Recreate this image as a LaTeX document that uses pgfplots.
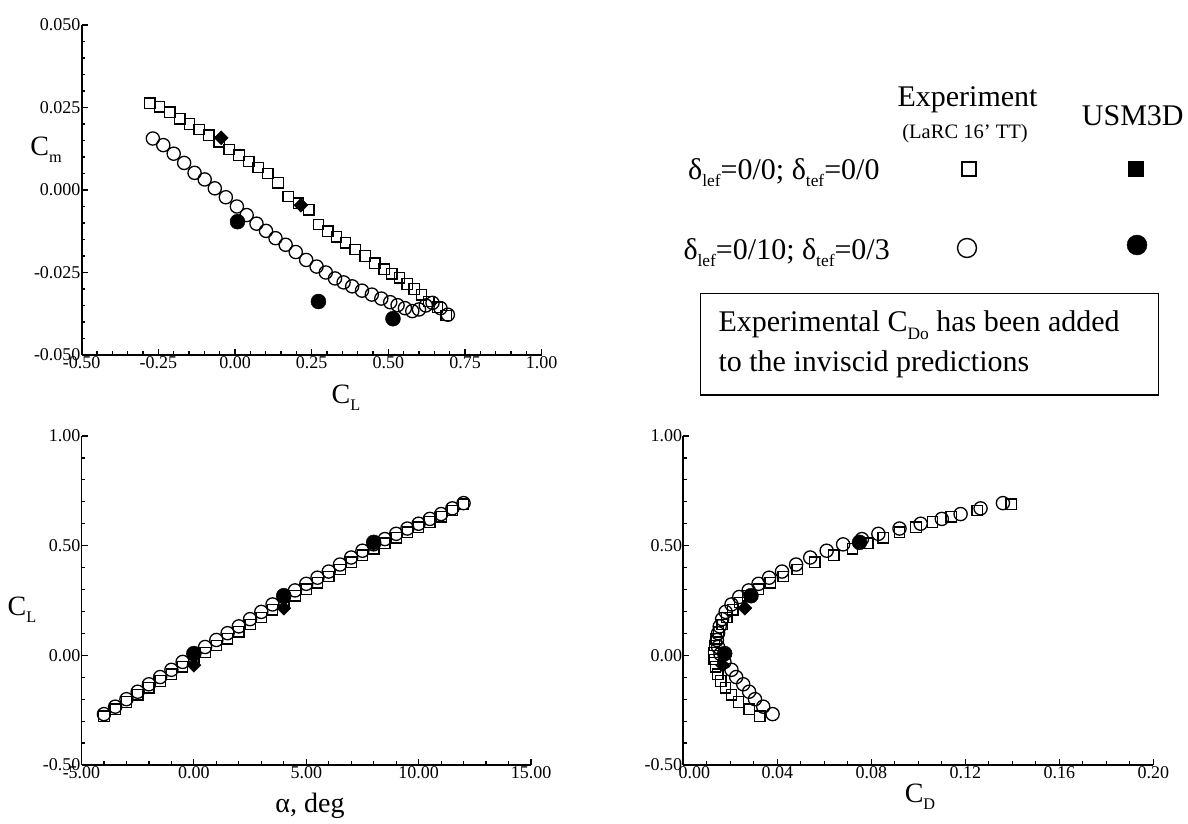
\documentclass[border=0pt]{standalone}
\usepackage{graphicx}
\usepackage{pgfplots}
\pgfplotsset{compat=1.18}
\usepackage{pgfplotstable}
\usepackage{fontspec}
\setmainfont{Liberation Serif}
\newcommand{\sbs}[1]{\raisebox{-0.25em}{\scalebox{0.58}{#1}}}
\newcommand\tickfont{\fontsize{18}{20}\selectfont}
\newcommand\labfont{\fontsize{28}{32}\selectfont}
\newcommand\legfont{\fontsize{30}{34}\selectfont}

% Experiment, d_lef=0/0; d_tef=0/0 (open squares)
\pgfplotstableread{
alpha CL CD Cm
-4.0 -0.278 0.0325 0.0263
-3.5 -0.246 0.0280 0.0252
-3.0 -0.213 0.0235 0.0236
-2.5 -0.180 0.0205 0.0216
-2.0 -0.148 0.0180 0.0200
-1.5 -0.117 0.0160 0.0183
-1.0 -0.086 0.0147 0.0166
-0.5 -0.052 0.0137 0.0146
0.0 -0.019 0.0131 0.0123
0.5 0.013 0.0130 0.0105
1.0 0.045 0.0133 0.0086
1.5 0.076 0.0140 0.0068
2.0 0.107 0.0150 0.0050
2.5 0.140 0.0165 0.0022
3.0 0.173 0.0185 -0.0020
3.5 0.207 0.0210 -0.0040
4.0 0.241 0.0240 -0.0060
4.5 0.272 0.0275 -0.0105
5.0 0.302 0.0320 -0.0125
5.5 0.331 0.0370 -0.0142
6.0 0.360 0.0425 -0.0160
6.5 0.392 0.0485 -0.0180
7.0 0.424 0.0560 -0.0200
7.5 0.456 0.0640 -0.0222
8.0 0.486 0.0720 -0.0240
8.5 0.511 0.0785 -0.0254
9.0 0.536 0.0850 -0.0266
9.5 0.561 0.0920 -0.0285
10.0 0.584 0.0990 -0.0300
10.5 0.608 0.1060 -0.0318
11.0 0.632 0.1140 -0.0338
11.5 0.660 0.1250 -0.0355
12.0 0.689 0.1395 -0.0380
}\expA

% Experiment, d_lef=0/10; d_tef=0/3 (open circles)
\pgfplotstableread{
alpha CL CD Cm
-4.0 -0.268 0.0380 0.0156
-3.5 -0.234 0.0340 0.0136
-3.0 -0.200 0.0305 0.0110
-2.5 -0.166 0.0280 0.0082
-2.0 -0.132 0.0255 0.0052
-1.5 -0.099 0.0225 0.0032
-1.0 -0.066 0.0205 0.0005
-0.5 -0.030 0.0175 -0.0022
0.0 0.006 0.0158 -0.0050
0.5 0.038 0.0148 -0.0076
1.0 0.070 0.0143 -0.0102
1.5 0.101 0.0148 -0.0124
2.0 0.132 0.0155 -0.0146
2.5 0.165 0.0165 -0.0166
3.0 0.198 0.0180 -0.0188
3.5 0.232 0.0205 -0.0212
4.0 0.266 0.0238 -0.0232
4.5 0.296 0.0278 -0.0250
5.0 0.326 0.0320 -0.0268
5.5 0.354 0.0365 -0.0280
6.0 0.382 0.0420 -0.0292
6.5 0.414 0.0480 -0.0305
7.0 0.446 0.0540 -0.0317
7.5 0.477 0.0610 -0.0329
8.0 0.506 0.0680 -0.0340
8.5 0.530 0.0760 -0.0349
9.0 0.554 0.0830 -0.0358
9.5 0.578 0.0920 -0.0367
10.0 0.600 0.1010 -0.0362
10.5 0.622 0.1100 -0.0350
11.0 0.644 0.1180 -0.0342
11.5 0.670 0.1265 -0.0358
12.0 0.694 0.1360 -0.0378
}\expB

% USM3D 0/0 (filled)
\pgfplotstableread{
alpha CL CD Cm
0 -0.045 0.0168 0.0158
4 0.215 0.0262 -0.0046
}\cfdA

% USM3D 0/10 (filled circles)
\pgfplotstableread{
alpha CL CD Cm
0 0.008 0.0176 -0.0096
4 0.272 0.0288 -0.0338
8 0.515 0.0750 -0.0390
}\cfdB

\pgfplotsset{
  myax/.style={
    scale only axis, anchor=south west,
    axis lines=left, axis line style={-, line width=1.9pt},
    x axis line style={-}, y axis line style={-},
    tick align=inside, major tick length=6pt, minor tick length=3.5pt,
    every tick/.style={black, line width=1.2pt},
    tick label style={font=\tickfont},
    xticklabel style={inner ysep=1.5pt},
    yticklabel style={inner xsep=1pt},
    scaled x ticks=false, scaled y ticks=false,
    clip=false,
  },
  sq/.style={only marks, mark=square, mark size=5.2pt, line width=1.3pt, black},
  ci/.style={only marks, mark=o, mark size=6.6pt, line width=1.3pt, black},
  di/.style={only marks, mark=square*, mark size=5pt, mark options={rotate=45}, black},
  fc/.style={only marks, mark=*, mark size=7.5pt, black},
}

\begin{document}
\begin{tikzpicture}
% overlay (legend, axis titles)
\begin{axis}[at={(0pt,0pt)}, anchor=south west, scale only axis, width=1188pt, height=824pt,
  xmin=0, xmax=1188, ymin=0, ymax=824, y dir=reverse, hide axis, clip=false]
  \addplot[only marks, mark=square, mark size=7pt, line width=1.4pt, black] coordinates {(969,169)};
  \addplot[only marks, mark=square*, mark size=7.5pt, black] coordinates {(1135.5,168.5)};
  \addplot[only marks, mark=o, mark size=9.5pt, line width=1.4pt, black] coordinates {(967,248)};
  \addplot[only marks, mark=*, mark size=10pt, black] coordinates {(1137,245)};
  \node[anchor=base, font=\legfont, inner sep=0pt] at (axis cs:967.5,106.7) {Experiment};
  \node[anchor=base, font=\fontsize{20.5}{24}\selectfont, inner sep=0pt] at (axis cs:965,138.5) {(LaRC 16' TT)};
  \node[anchor=base west, font=\legfont, inner sep=0pt] at (axis cs:1081.7,125.7) {USM3D};
  \node[anchor=base west, font=\legfont, inner sep=0pt] at (axis cs:688,179) {δ\sbs{lef}=0/0; δ\sbs{tef}=0/0};
  \node[anchor=base west, font=\legfont, inner sep=0pt] at (axis cs:683.3,259) {δ\sbs{lef}=0/10; δ\sbs{tef}=0/3};
  \draw[line width=1.5pt] (axis cs:700.7,293.3) rectangle (axis cs:1158.3,395);
  \node[anchor=base west, font=\legfont, inner sep=0pt] at (axis cs:718.3,331.5) {Experimental C\sbs{Do} has been added};
  \node[anchor=base west, font=\legfont, inner sep=0pt] at (axis cs:718.3,371.5) {to the inviscid predictions};
  % axis titles
  \node[font=\labfont] at (axis cs:46,150) {C\sbs{m}};
  \node[font=\labfont] at (axis cs:346,398) {C\sbs{L}};
  \node[font=\labfont] at (axis cs:22,610) {C\sbs{L}};
  \node[font=\labfont] at (axis cs:310,806) {α, deg};
  \node[font=\labfont] at (axis cs:920,797) {C\sbs{D}};
\end{axis}

% Cm vs CL
\begin{axis}[myax, at={(81.7pt,469pt)}, width=460pt, height=330pt,
  xmin=-0.5, xmax=1.0, ymin=-0.05, ymax=0.05,
  xtick={-0.5,-0.25,0,0.25,0.5,0.75,1.0},
  xticklabels={-0.50,-0.25,0.00,0.25,0.50,0.75,1.00},
  ytick={-0.05,-0.025,0,0.025,0.05},
  yticklabels={-0.050,-0.025,0.000,0.025,0.050},
  minor x tick num=4, minor y tick num=4]
  \addplot[sq] table[x=CL, y=Cm] {\expA};
  \addplot[ci] table[x=CL, y=Cm] {\expB};
  \addplot[di] table[x=CL, y=Cm] {\cfdA};
  \addplot[fc] table[x=CL, y=Cm] {\cfdB};
\end{axis}

% CL vs alpha
\begin{axis}[myax, at={(81.5pt,59pt)}, width=449.5pt, height=329pt,
  xmin=-5, xmax=15, ymin=-0.5, ymax=1.0,
  xtick={-5,0,5,10,15},
  xticklabels={-5.00,0.00,5.00,10.00,15.00},
  ytick={-0.5,0,0.5,1.0},
  yticklabels={-0.50,0.00,0.50,1.00},
  minor x tick num=4, minor y tick num=4]
  \addplot[sq] table[x=alpha, y=CL] {\expA};
  \addplot[ci] table[x=alpha, y=CL] {\expB};
  \addplot[di] table[x=alpha, y=CL] {\cfdA};
  \addplot[fc] table[x=alpha, y=CL] {\cfdB};
\end{axis}

% CL vs CD
\begin{axis}[myax, at={(683.3pt,59pt)}, width=470pt, height=329pt,
  xmin=0, xmax=0.2, ymin=-0.5, ymax=1.0,
  xtick={0,0.04,0.08,0.12,0.16,0.2},
  xticklabels={\hspace*{22pt}0.00,0.04,0.08,0.12,0.16,0.20},
  ytick={-0.5,0,0.5,1.0},
  yticklabels={-0.50,0.00,0.50,1.00},
  minor x tick num=3, minor y tick num=4]
  \addplot[sq] table[x=CD, y=CL] {\expA};
  \addplot[ci] table[x=CD, y=CL] {\expB};
  \addplot[di] table[x=CD, y=CL] {\cfdA};
  \addplot[fc] table[x=CD, y=CL] {\cfdB};
\end{axis}

\pgfresetboundingbox
\path[use as bounding box] (0pt,0pt) rectangle (1188pt,824pt);
\end{tikzpicture}
\end{document}
